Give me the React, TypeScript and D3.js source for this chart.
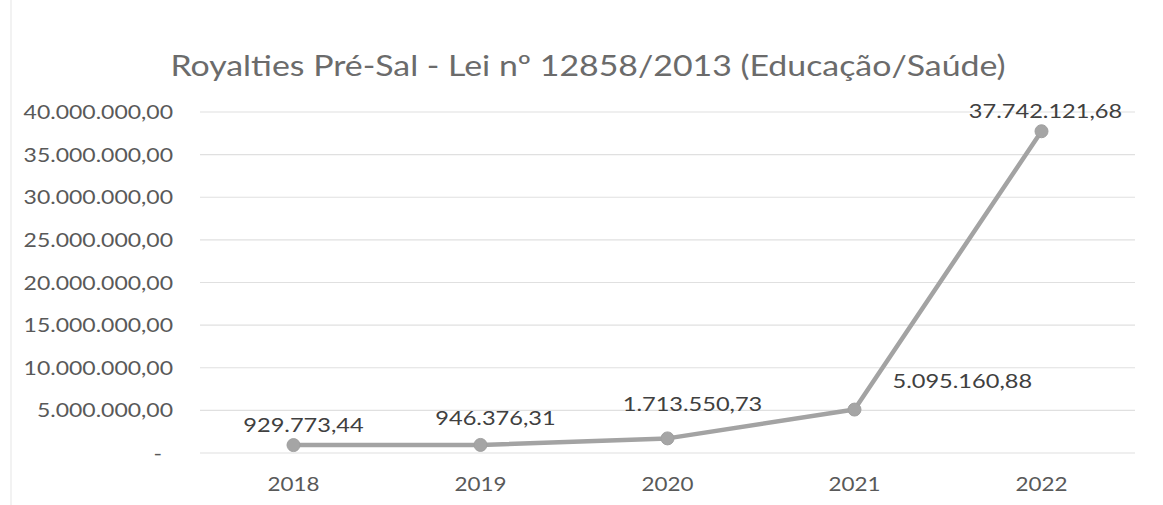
import React from "react";
import * as d3 from "d3";

const years = ["2018", "2019", "2020", "2021", "2022"];
const values = [929773.44, 946376.31, 1713550.73, 5095160.88, 37742121.68];
const valueLabels = ["929.773,44", "946.376,31", "1.713.550,73", "5.095.160,88", "37.742.121,68"];
const yTicks = [0, 5000000, 10000000, 15000000, 20000000, 25000000, 30000000, 35000000, 40000000];
const title = "Royalties Pré-Sal - Lei nº 12858/2013 (Educação/Saúde)";

const W = 1163, H = 505;
const M = { left: 200, right: 28, top: 112, bottom: 52 };
const SX = 1.18;

function fmt(v: number) {
  if (v === 0) return "-";
  const s = d3.format(",.2f")(v);
  return s.replace(/,/g, "#").replace(".", ",").replace(/#/g, ".");
}

function SText(props: { x: number; y: number; anchor?: string; size: number; fill: string; sx?: number; children: React.ReactNode }) {
  const { x, y, anchor = "middle", size, fill, sx = SX, children } = props;
  return (
    <text transform={`translate(${x},${y}) scale(${sx},1)`} textAnchor={anchor as any} fontSize={size} fill={fill}>
      {children}
    </text>
  );
}

export default function App() {
  const x = d3.scaleBand<string>().domain(years).range([M.left, W - M.right]);
  const y = d3.scaleLinear().domain([0, 40000000]).range([H - M.bottom, M.top]);
  const cx = (i: number) => (x(years[i]) as number) + x.bandwidth() / 2;
  const line = d3.line<number>().x((_, i) => cx(i)).y((d) => y(d));
  const font = "Lato, 'Open Sans', sans-serif";
  const txt = "#595959";
  const labelPos = [
    { dx: 10, dy: -13, anchor: "middle" },
    { dx: 15, dy: -20, anchor: "middle" },
    { dx: 25, dy: -27, anchor: "middle" },
    { dx: 38, dy: -22, anchor: "start" },
    { dx: 4, dy: -13, anchor: "middle" },
  ];
  return (
    <svg width={W} height={H} style={{ position: "absolute", left: 0, top: 0, background: "#fff" }} fontFamily={font}>
      <rect x={0} y={0} width={W} height={H} fill="#ffffff" />
      <line x1={11} x2={11} y1={0} y2={H} stroke="#eeeeee" strokeWidth={1.5} />
      <SText x={588} y={76} size={29} fill="#6b6b6b" sx={1.168}>{title}</SText>
      {yTicks.map((t) => (
        <g key={t}>
          <line x1={M.left} x2={W - M.right} y1={y(t)} y2={y(t)} stroke="#e0e0e0" strokeWidth={1.2} />
          <SText x={t === 0 ? 162 : 173} y={y(t) + 7} anchor="end" size={19.5} fill={txt}>{fmt(t)}</SText>
        </g>
      ))}
      {years.map((yr, i) => (
        <SText key={yr} x={cx(i)} y={491} size={19} fill={txt}>{yr}</SText>
      ))}
      <path d={line(values) as string} fill="none" stroke="#a3a3a3" strokeWidth={4.5} strokeLinejoin="round" />
      {values.map((v, i) => (
        <circle key={i} cx={cx(i)} cy={y(v)} r={6.5} fill="#a5a5a5" stroke="#a0a0a0" strokeWidth={1} />
      ))}
      {values.map((v, i) => (
        <SText key={"l" + i} x={cx(i) + labelPos[i].dx} y={y(v) + labelPos[i].dy} anchor={labelPos[i].anchor} size={20} fill="#404040">
          {valueLabels[i]}
        </SText>
      ))}
    </svg>
  );
}
